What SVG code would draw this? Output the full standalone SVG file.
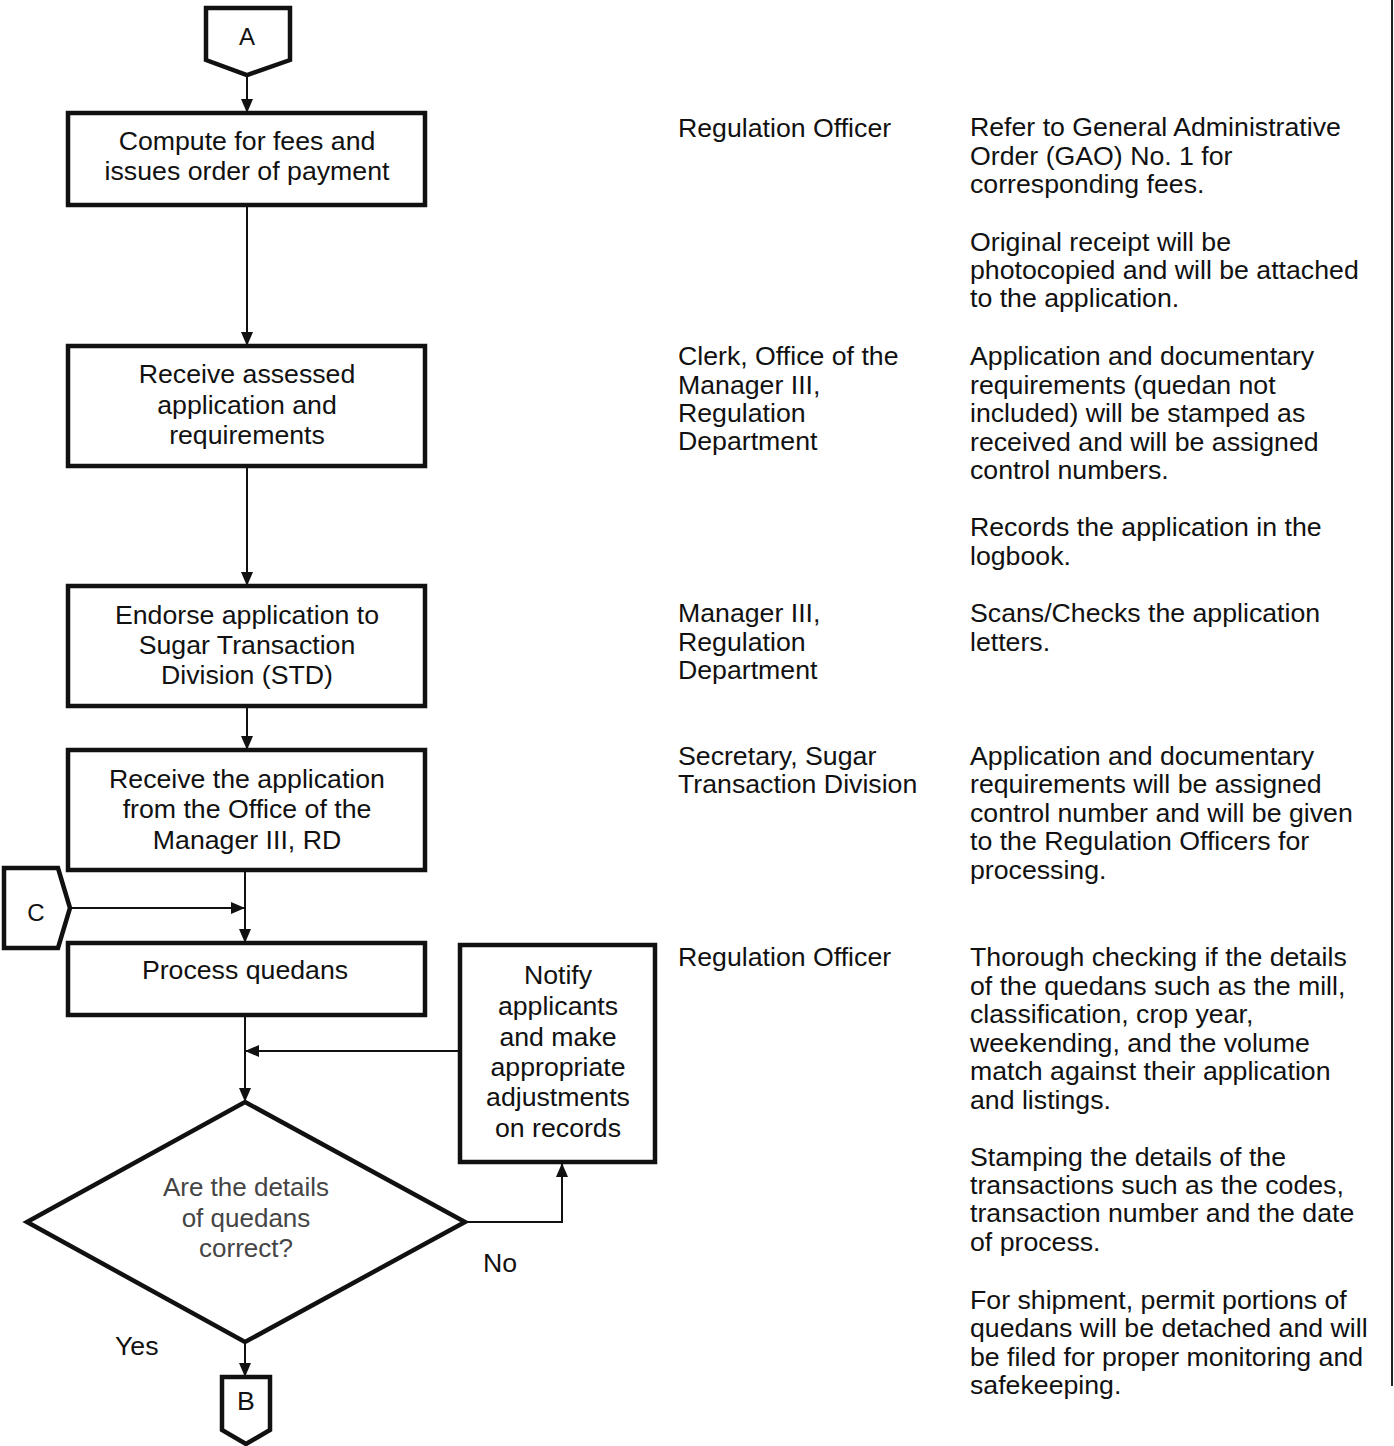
<svg xmlns="http://www.w3.org/2000/svg" width="1394" height="1446" viewBox="0 0 1394 1446">
  <style>
    .box { fill: #ffffff; stroke: #111111; stroke-width: 4.5; }
    .conn { fill: #ffffff; stroke: #111111; stroke-width: 4.5; stroke-linejoin: miter; }
    .edge { fill: none; stroke: #111111; stroke-width: 2; }
    text { font-family: "Liberation Sans", Arial, sans-serif; font-size: 26.7px; fill: #111111; }
    .c { text-anchor: middle; }
    .q { fill: #454545; font-size: 26px; }
    .lbl { font-size: 24px; }
  </style>
  <defs>
    <marker id="arrow" viewBox="0 0 14 12" refX="14" refY="6" markerWidth="14" markerHeight="12" markerUnits="userSpaceOnUse" orient="auto">
      <path d="M0,0 L14,6 L0,12 z" fill="#111111"/>
    </marker>
  </defs>
  <rect width="1394" height="1446" fill="#ffffff"/>

  <!-- page border on the right -->
  <line x1="1392" y1="0" x2="1392" y2="1386" stroke="#222222" stroke-width="2"/>

  <!-- connectors -->
  <g id="connectors">
    <line class="edge" x1="247" y1="75" x2="247" y2="113" marker-end="url(#arrow)"/>
    <line class="edge" x1="247" y1="205" x2="247" y2="346" marker-end="url(#arrow)"/>
    <line class="edge" x1="247" y1="466" x2="247" y2="586" marker-end="url(#arrow)"/>
    <line class="edge" x1="247" y1="706" x2="247" y2="750" marker-end="url(#arrow)"/>
    <line class="edge" x1="245" y1="870" x2="245" y2="943" marker-end="url(#arrow)"/>
    <line class="edge" x1="70" y1="908" x2="245" y2="908" marker-end="url(#arrow)"/>
    <line class="edge" x1="245" y1="1015" x2="245" y2="1102" marker-end="url(#arrow)"/>
    <line class="edge" x1="460" y1="1051" x2="245" y2="1051" marker-end="url(#arrow)"/>
    <polyline class="edge" points="465,1222 562,1222 562,1163" marker-end="url(#arrow)"/>
    <line class="edge" x1="245" y1="1342" x2="245" y2="1377" marker-end="url(#arrow)"/>
  </g>

  <!-- off-page connector A -->
  <g id="conn-a">
    <path class="conn" d="M206,8 L290,8 L290,60 L247,75 L206,60 Z"/>
    <text class="c lbl" x="247" y="45">A</text>
  </g>

  <!-- off-page connector C -->
  <g id="conn-c">
    <path class="conn" d="M4,868 L58,868 L70,908 L58,948 L4,948 Z"/>
    <text class="c lbl" x="36" y="921" fill="#333333">C</text>
  </g>

  <!-- process steps -->
  <g id="step-compute">
    <rect class="box" x="68" y="113" width="357" height="92"/>
    <text class="c" x="247" y="150">Compute for fees and</text>
    <text class="c" x="247" y="180">issues order of payment</text>
  </g>

  <g id="step-receive">
    <rect class="box" x="68" y="346" width="357" height="120"/>
    <text class="c" x="247" y="383">Receive assessed</text>
    <text class="c" x="247" y="414">application and</text>
    <text class="c" x="247" y="444">requirements</text>
  </g>

  <g id="step-endorse">
    <rect class="box" x="68" y="586" width="357" height="120"/>
    <text class="c" x="247" y="624">Endorse application to</text>
    <text class="c" x="247" y="654">Sugar Transaction</text>
    <text class="c" x="247" y="684">Division (STD)</text>
  </g>

  <g id="step-receive-std">
    <rect class="box" x="68" y="750" width="357" height="120"/>
    <text class="c" x="247" y="788">Receive the application</text>
    <text class="c" x="247" y="818">from the Office of the</text>
    <text class="c" x="247" y="849">Manager III, RD</text>
  </g>

  <g id="step-process">
    <rect class="box" x="68" y="943" width="357" height="72"/>
    <text class="c" x="245" y="979">Process quedans</text>
  </g>

  <g id="step-notify">
    <rect class="box" x="460" y="945" width="195" height="217"/>
    <text class="c" x="558" y="984">Notify</text>
    <text class="c" x="558" y="1015">applicants</text>
    <text class="c" x="558" y="1046">and make</text>
    <text class="c" x="558" y="1076">appropriate</text>
    <text class="c" x="558" y="1106">adjustments</text>
    <text class="c" x="558" y="1137">on records</text>
  </g>

  <!-- decision -->
  <g id="decision-details">
    <path class="conn" d="M245,1102 L465,1222 L245,1342 L27,1222 Z"/>
    <text class="c q" x="246" y="1196">Are the details</text>
    <text class="c q" x="246" y="1227">of quedans</text>
    <text class="c q" x="246" y="1257">correct?</text>
  </g>
  <text x="500" y="1272" class="c">No</text>
  <text x="115" y="1355">Yes</text>

  <!-- off-page connector B -->
  <g id="conn-b">
    <path class="conn" d="M222,1377 L270,1377 L270,1430 L246,1444 L222,1430 Z"/>
    <text class="c" x="246" y="1410" font-size="21" fill="#333333">B</text>
  </g>

  <!-- responsible persons -->
  <g id="responsible">
    <text x="678" y="137">Regulation Officer</text>
    <text x="678" y="365">Clerk, Office of the</text>
    <text x="678" y="394">Manager III,</text>
    <text x="678" y="422">Regulation</text>
    <text x="678" y="450">Department</text>
    <text x="678" y="622">Manager III,</text>
    <text x="678" y="651">Regulation</text>
    <text x="678" y="679">Department</text>
    <text x="678" y="765">Secretary, Sugar</text>
    <text x="678" y="793">Transaction Division</text>
    <text x="678" y="966">Regulation Officer</text>
  </g>

  <!-- remarks -->
  <g id="remarks">
    <text x="970" y="136">Refer to General Administrative</text>
    <text x="970" y="165">Order (GAO) No. 1 for</text>
    <text x="970" y="193">corresponding fees.</text>
    <text x="970" y="251">Original receipt will be</text>
    <text x="970" y="279">photocopied and will be attached</text>
    <text x="970" y="307">to the application.</text>
    <text x="970" y="365">Application and documentary</text>
    <text x="970" y="394">requirements (quedan not</text>
    <text x="970" y="422">included) will be stamped as</text>
    <text x="970" y="451">received and will be assigned</text>
    <text x="970" y="479">control numbers.</text>
    <text x="970" y="536">Records the application in the</text>
    <text x="970" y="565">logbook.</text>
    <text x="970" y="622">Scans/Checks the application</text>
    <text x="970" y="651">letters.</text>
    <text x="970" y="765">Application and documentary</text>
    <text x="970" y="793">requirements will be assigned</text>
    <text x="970" y="822">control number and will be given</text>
    <text x="970" y="850">to the Regulation Officers for</text>
    <text x="970" y="879">processing.</text>
    <text x="970" y="966">Thorough checking if the details</text>
    <text x="970" y="995">of the quedans such as the mill,</text>
    <text x="970" y="1023">classification, crop year,</text>
    <text x="970" y="1052">weekending, and the volume</text>
    <text x="970" y="1080">match against their application</text>
    <text x="970" y="1109">and listings.</text>
    <text x="970" y="1166">Stamping the details of the</text>
    <text x="970" y="1194">transactions such as the codes,</text>
    <text x="970" y="1222">transaction number and the date</text>
    <text x="970" y="1251">of process.</text>
    <text x="970" y="1309">For shipment, permit portions of</text>
    <text x="970" y="1337">quedans will be detached and will</text>
    <text x="970" y="1366">be filed for proper monitoring and</text>
    <text x="970" y="1394">safekeeping.</text>
  </g>
</svg>
